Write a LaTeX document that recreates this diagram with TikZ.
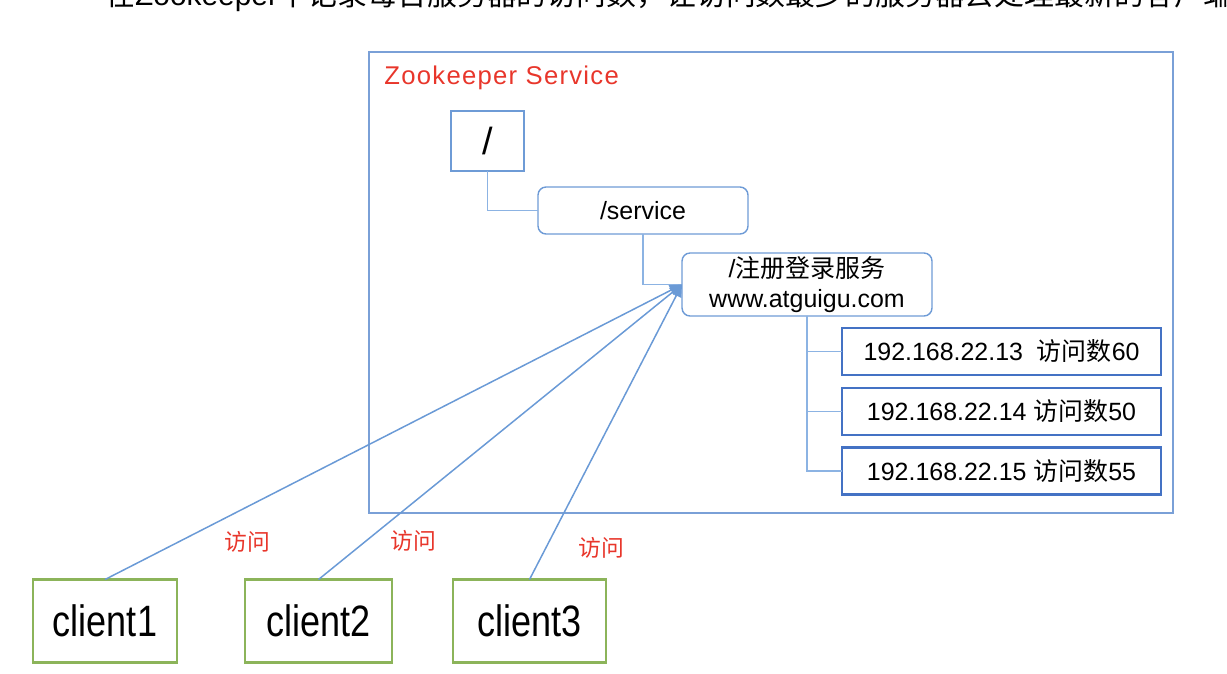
\documentclass[tikz,border=0pt]{standalone}
\usepackage{fontspec}
\setmainfont{Liberation Sans}
\newfontfamily\cjk{Noto Sans CJK SC}
\newfontfamily\zkfont[LetterSpace=5]{Liberation Sans}
\newfontfamily\clientfont[FakeStretch=0.82]{Liberation Sans}
\usetikzlibrary{arrows.meta}
\definecolor{zkblue}{HTML}{7AA0D7}
\definecolor{nodeblue}{HTML}{6E9BD6}
\definecolor{linkblue}{HTML}{8CB3E3}
\definecolor{arrowblue}{HTML}{6A9AD6}
\definecolor{ipblue}{HTML}{4472C4}
\definecolor{clientgreen}{HTML}{8CB45A}
\definecolor{zkred}{HTML}{E8362B}
\tikzset{
    znode/.style={draw=nodeblue,line width=0.8pt,inner sep=0pt,outer sep=0pt,align=center,font=\fontsize{14.2}{17}\selectfont},
    ipbox/.style={draw=ipblue,line width=1.2pt,inner sep=0pt,outer sep=0pt,minimum width=6.38cm,minimum height=0.94cm,font=\fontsize{14.2}{17}\selectfont},
    clientbox/.style={draw=clientgreen,line width=1.4pt,inner sep=0pt,outer sep=0pt,minimum height=1.66cm,font=\clientfont\fontsize{25}{30}\selectfont},
    visit/.style={inner sep=0pt,text=zkred,font=\cjk\fontsize{13}{15}\selectfont},
    link/.style={draw=linkblue,line width=0.6pt},
    request/.style={draw=arrowblue,line width=0.85pt,-{Triangle[length=7pt,width=6pt]}}
}
\begin{document}
\begin{tikzpicture}[x=0.02cm,y=-0.02cm]
    \useasboundingbox (0,0) rectangle (1227,673);
    \node[anchor=base west,inner sep=0pt,font=\fontsize{17}{20}\selectfont] (intro) at (105,5)
        {{\cjk 在}Zookeeper{\cjk 中记录每台服务器的访问数，让访问数最少的服务器去处理最新的客户端请求}};
    \draw[zkblue,line width=0.8pt] (369,52) rectangle (1173,513);
    \node[anchor=west,inner sep=0pt,text=zkred,font=\zkfont\fontsize{14.6}{17}\selectfont] (zktitle) at (384,78) {Zookeeper Service};
    \node[znode,minimum width=1.46cm,minimum height=1.2cm,font=\fontsize{21.5}{24}\selectfont] (root) at (487.5,141) {/};
    \node[znode,rounded corners=0.16cm,minimum width=4.2cm,minimum height=0.94cm] (svc) at (643,210.5) {/service};
    \node[znode,rounded corners=0.16cm,minimum width=5cm,minimum height=1.26cm] (reg) at (807,284.5)
        {/{\cjk 注册登录服务}\\www.atguigu.com};
    \node[ipbox] (ip1) at (1001.5,351.5) {192.168.22.13\ \ {\cjk 访问数}60};
    \node[ipbox] (ip2) at (1001.5,411.5) {192.168.22.14 {\cjk 访问数}50};
    \node[ipbox] (ip3) at (1001.5,471) {192.168.22.15 {\cjk 访问数}55};
    \draw[link] (root.south) |- (svc.west);
    \draw[link] (svc.south) |- (reg.west);
    \foreach \n in {1,2,3}
        \draw[link] (reg.south) |- (ip\n.west);
    \foreach \n/\x/\w in {1/105/2.88,2/318.5/2.94,3/529.5/3.06}
        \node[clientbox,minimum width=\w cm] (c\n) at (\x,621) {client\n};
    \foreach \n in {1,2,3}
        \draw[request] (c\n.north) -- (reg.west);
    \foreach \n/\x/\y in {1/247/542,2/413/541,3/601/548}
        \node[visit] (v\n) at (\x,\y) {访问};
\end{tikzpicture}
\end{document}
